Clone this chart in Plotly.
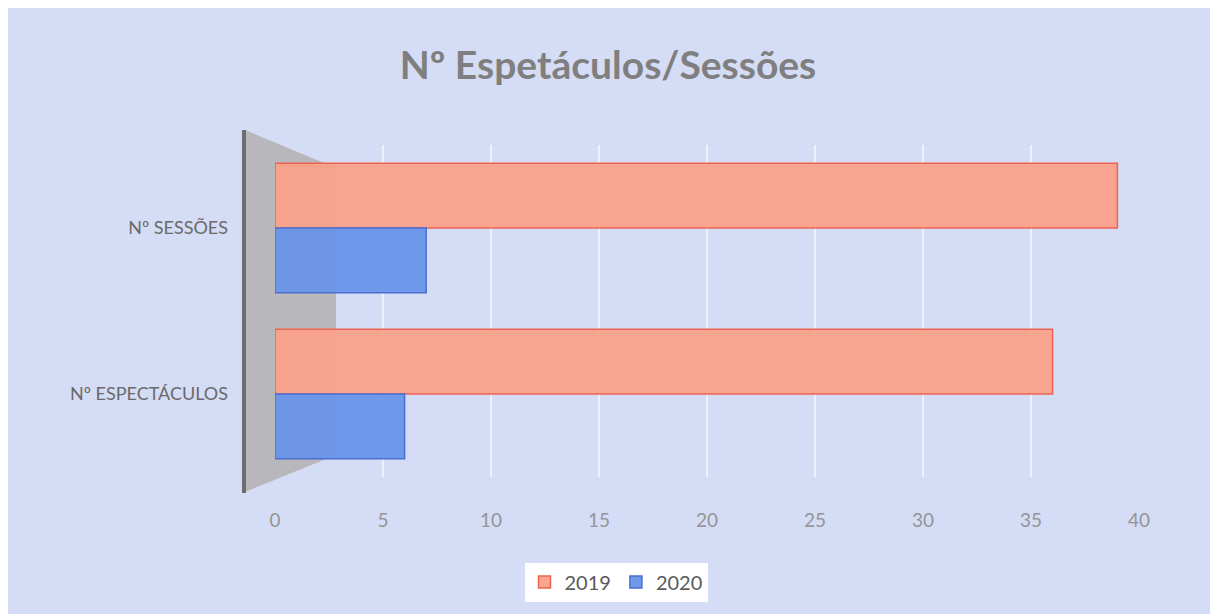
import plotly.graph_objects as go

categories = ["Nº SESSÕES", "Nº ESPECTÁCULOS"]
series_names = ["2019", "2020"]
values_2019 = [39, 36]
values_2020 = [7, 6]
tick_values = [0, 5, 10, 15, 20, 25, 30, 35, 40]

W, H = 1218, 614
OFF = 8  # page body margin offset
L, R, T, B = 267, 87, 137, 145
pw, ph = W - L - R, H - T - B

def px(xp):
    return (xp - OFF - L) / pw

def py(yp):
    return (H - B - (yp - OFF)) / ph

fig = go.Figure()
fig.add_trace(go.Bar(
    y=categories, x=values_2019, name=series_names[0], orientation="h",
    marker=dict(color="rgba(250,160,138,0.95)", line=dict(color="#ec6450", width=1.5)),
))
fig.add_trace(go.Bar(
    y=categories, x=values_2020, name=series_names[1], orientation="h",
    marker=dict(color="rgba(104,148,232,0.95)", line=dict(color="#4a6fcf", width=1.5)),
))

# grey side wall (decorative, as in the 3D original)
wall = (f"M {px(245)} {py(130)} L {px(336)} {py(168)} L {px(336)} {py(455)} "
        f"L {px(245)} {py(492)} Z")
shapes = [
    dict(type="path", path=wall, xref="paper", yref="paper",
         fillcolor="#b8b8bc", line=dict(width=0), layer="below"),
    dict(type="line", xref="paper", yref="paper", x0=px(244), x1=px(244),
         y0=py(130), y1=py(493), line=dict(color="#6e6e6e", width=4), layer="below"),
]

bg = "#d5dcf5"
fig.update_layout(
    width=W, height=H,
    paper_bgcolor=bg, plot_bgcolor=bg,
    margin=dict(l=L, r=R, t=T, b=B),
    barmode="group", bargap=0.22, bargroupgap=0,
    font=dict(family="Lato, Open Sans, sans-serif", color="#7a7a7a"),
    title=dict(text="<b>Nº Espetáculos/Sessões</b>", x=(608 - OFF) / W, xanchor="center",
               y=1 - (65 - OFF) / H, yanchor="middle",
               font=dict(size=39, color="#7f7f7f", family="Lato, Open Sans, sans-serif")),
    xaxis=dict(range=[0, 40], tickvals=tick_values, showgrid=True, gridcolor="#eef1fc",
               gridwidth=2, zeroline=False, showline=False,
               tickfont=dict(size=19, color="#959595"), ticklabelstandoff=30),
    yaxis=dict(autorange="reversed", showgrid=False, zeroline=False, showline=False,
               tickfont=dict(size=18, color="#6a6a6a"), ticklabelstandoff=46),
    legend=dict(orientation="h", x=px(616), xanchor="center", y=py(582), yanchor="middle",
                bgcolor="#ffffff", font=dict(size=20, color="#5a5a5a"),
                itemwidth=30, tracegroupgap=0),
    shapes=shapes,
    showlegend=True,
)

fig.write_html("out.html")
